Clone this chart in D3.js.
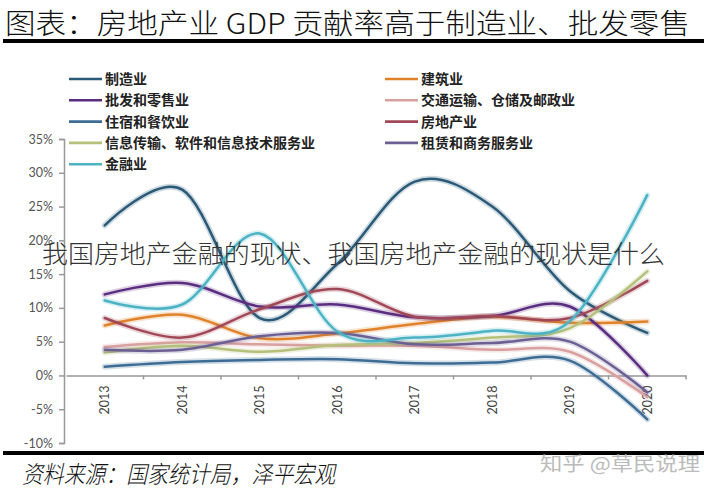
<!DOCTYPE html>
<html><head><meta charset="utf-8">
<script src="https://cdn.jsdelivr.net/npm/d3@7"></script>
<style>body{margin:0;background:#fff}</style>
</head><body><svg id="c" width="707" height="490"></svg>
<script>
const titleText = "图表：房地产业 GDP 贡献率高于制造业、批发零售";
const sourceText = "资料来源：国家统计局，泽平宏观";
const overlayText = "我国房地产金融的现状、我国房地产金融的现状是什么";
const watermarkText = "知乎 @草民说理";
const years = ["2013","2014","2015","2016","2017","2018","2019","2020"];
const yTicks = [-10,-5,0,5,10,15,20,25,30,35];
const seriesNames = ["制造业","建筑业","批发和零售业","交通运输、仓储及邮政业","住宿和餐饮业","房地产业","信息传输、软件和信息技术服务业","租赁和商务服务业","金融业"];
const seriesColors = ["#2a5a78","#e0822a","#5a2d80","#d9a0a0","#3d6d94","#a04858","#b5c07a","#6b5f93","#4bb3c4"];
const manufacturing = [22.2,27.5,8.5,16.5,28.7,25.0,12.5,6.3];
const construction  = [7.4,9.0,5.5,6.2,7.6,8.7,7.8,8.0];
const wholesale     = [12.0,13.7,10.2,10.5,8.6,8.8,10.2,0.0];
const transport     = [4.2,4.9,4.6,4.4,4.4,3.8,3.5,-3.2];
const hospitality   = [1.3,2.0,2.3,2.4,1.8,1.9,2.2,-6.5];
const realEstate    = [8.5,5.6,9.8,12.8,8.7,8.8,8.5,14.0];
const infoTech      = [3.4,4.4,3.5,4.5,4.8,5.6,7.0,15.4];
const leasing       = [3.8,3.8,5.8,6.3,4.6,4.8,5.0,-2.5];
const finance       = [11.1,10.5,21.0,6.5,5.6,6.6,8.0,26.7];
const seriesValues = [manufacturing,construction,wholesale,transport,hospitality,realEstate,infoTech,leasing,finance];

const svg = d3.select("#c");
const cjk = "'Noto Sans CJK SC','Noto Sans',sans-serif";
const latin = "Lato,'Open Sans',sans-serif";

// title
svg.append("text").attr("x",5).attr("y",34).attr("font-family",cjk).attr("font-size",28).attr("font-weight",300)
  .attr("fill","#111").attr("textLength",685).attr("lengthAdjust","spacingAndGlyphs").text(titleText);
svg.append("rect").attr("x",3).attr("y",39).attr("width",701).attr("height",4).attr("fill","#000");

const x = d3.scaleBand().domain(years).range([66,686]);
const y = d3.scaleLinear().domain([-10,35]).range([443,139]);

// y axis
const gy = svg.append("g").attr("transform","translate(64,0)")
  .call(d3.axisLeft(y).tickValues(yTicks).tickSize(5).tickFormat(d=>d+"%"));
gy.select(".domain").attr("stroke","#999").attr("stroke-width",1.5);
gy.selectAll(".tick line").attr("stroke","#999").attr("stroke-width",1.5);
gy.selectAll(".tick text").attr("font-family",latin).attr("font-size",12.5).attr("fill","#555").attr("x",-11);

// x axis at 0
const gx = svg.append("g").attr("transform",`translate(0,${y(0)})`)
  .call(d3.axisBottom(x).tickSize(0));
gx.select(".domain").attr("stroke","#999").attr("stroke-width",1.5);
gx.selectAll(".tick text").attr("font-family",latin).attr("font-size",12.5).attr("fill","#444")
  .attr("transform","rotate(-90)").attr("text-anchor","end").attr("x",-10).attr("y",0).attr("dy","0.35em");
gx.selectAll(".bt").data(years).enter().append("line")
  .attr("x1",d=>x(d)+x.bandwidth()).attr("x2",d=>x(d)+x.bandwidth())
  .attr("y1",0).attr("y2",4).attr("stroke","#999").attr("stroke-width",1.5);

// lines
const line = d3.line().x((d,i)=>x(years[i])+x.bandwidth()/2).y(d=>y(d)).curve(d3.curveCardinal.tension(0));
const lg = svg.append("g");
seriesValues.forEach((vals,k)=>{
  lg.append("path").attr("d",line(vals)).attr("fill","none").attr("stroke",seriesColors[k])
    .attr("stroke-opacity",0.22).attr("stroke-width",6).attr("stroke-linecap","round");
  lg.append("path").attr("d",line(vals)).attr("fill","none").attr("stroke",seriesColors[k])
    .attr("stroke-width",2.5).attr("stroke-linecap","round");
});

// legend
const leg = svg.append("g");
seriesNames.forEach((n,i)=>{
  const col = i%2, row = Math.floor(i/2);
  const lx = col===0 ? 69 : 385;
  const ly = 79 + row*21.3;
  leg.append("line").attr("x1",lx).attr("x2",lx+33).attr("y1",ly).attr("y2",ly)
    .attr("stroke",seriesColors[i]).attr("stroke-width",2.6);
  leg.append("text").attr("x",lx+36).attr("y",ly).attr("dy","0.36em").attr("font-family",cjk)
    .attr("font-size",14).attr("font-weight","bold").attr("fill","#222").text(n);
});

// overlay caption
svg.append("text").attr("x",42).attr("y",263).attr("font-family",cjk).attr("font-size",25)
  .attr("font-weight",300).attr("fill","#333").attr("textLength",623).attr("lengthAdjust","spacingAndGlyphs").text(overlayText);

// bottom
svg.append("rect").attr("x",3).attr("y",451).attr("width",701).attr("height",4).attr("fill","#000");
svg.append("text").attr("x",22).attr("y",483).attr("font-family",cjk).attr("font-size",24).attr("font-weight",300)
  .attr("font-style","italic").attr("fill","#111").attr("textLength",313).attr("lengthAdjust","spacingAndGlyphs").text(sourceText);
svg.append("text").attr("x",540).attr("y",471).attr("font-family",cjk).attr("font-size",19)
  .attr("fill","#bbb").attr("textLength",160).attr("lengthAdjust","spacingAndGlyphs").text(watermarkText);
</script></body></html>
